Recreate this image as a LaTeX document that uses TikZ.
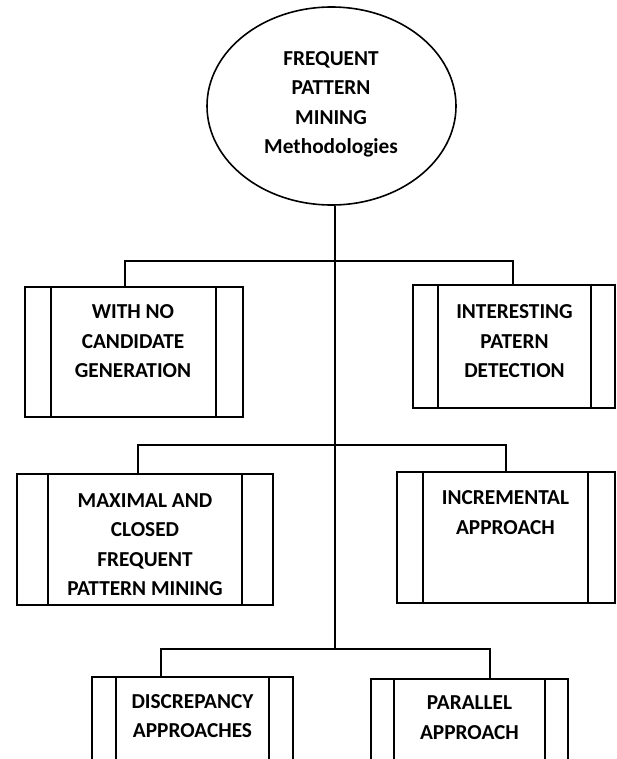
\documentclass[tikz,border=0pt]{standalone}
\usepackage{fontspec}
\setmainfont{Carlito}
\usetikzlibrary{shapes.geometric}

\tikzset{
  labeltext/.style={font=\fontsize{21.3}{29.5}\selectfont\bfseries, align=center, inner sep=0pt},
  framebox/.style={draw, inner sep=0pt},
}

\begin{document}
\begin{tikzpicture}[x=1pt, y=-1pt, line width=1.6pt]
  \useasboundingbox (0,0) rectangle (616,759);
  \clip (0,0) rectangle (616,759);

  % root ellipse
  \node[draw, ellipse, minimum width=249pt, minimum height=198pt, inner sep=0pt] (root) at (331.5,106) {};
  \node[labeltext] (roottext) at (331,104.5) {FREQUENT\\PATTERN\\MINING\\Methodologies};

  % boxes with side bars: outer frame + two inner verticals
  \node[framebox, minimum width=218pt, minimum height=130pt] (b1) at (134,352) {};
  \draw (51,287) -- (51,417) (216,287) -- (216,417);
  \node[labeltext] (t1) at (133,341.5) {WITH NO\\CANDIDATE\\GENERATION};

  \node[framebox, minimum width=202pt, minimum height=123pt] (b2) at (514,346.5) {};
  \draw (438,285) -- (438,408) (591,285) -- (591,408);
  \node[labeltext] (t2) at (514.5,341.5) {INTERESTING\\PATERN\\DETECTION};

  \node[framebox, minimum width=256pt, minimum height=131pt] (b3) at (145,539.5) {};
  \draw (48,474) -- (48,605) (242,474) -- (242,605);
  \node[labeltext] (t3) at (145,544.5) {MAXIMAL AND\\CLOSED\\FREQUENT\\PATTERN MINING};

  \node[framebox, minimum width=218pt, minimum height=131pt] (b4) at (506,537.5) {};
  \draw (423,472) -- (423,603) (588,472) -- (588,603);
  \node[labeltext] (t4) at (505.5,512.5) {INCREMENTAL\\APPROACH};

  \node[framebox, minimum width=201pt, minimum height=160pt] (b5) at (192.5,757) {};
  \draw (116,677) -- (116,840) (269,677) -- (269,840);
  \node[labeltext] (t5) at (192.5,716) {DISCREPANCY\\APPROACHES};

  \node[framebox, minimum width=197pt, minimum height=160pt] (b6) at (469.5,759) {};
  \draw (394,679) -- (394,840) (545,679) -- (545,840);
  \node[labeltext] (t6) at (469.5,717.5) {PARALLEL\\APPROACH};

  % spine and branch points
  \coordinate (j3) at (335,649);
  \coordinate (d1) at (125,261);
  \coordinate (d2) at (513,261);
  \coordinate (d3) at (138,445);
  \coordinate (d4) at (506,445);
  \coordinate (d5) at (161,649);
  \coordinate (d6) at (490,649);

  \draw (root.south -| j3) -- (j3);
  \draw (b1.north -| d1) -- (d1) -- (d2) -- (b2.north -| d2);
  \draw (b3.north -| d3) -- (d3) -- (d4) -- (b4.north -| d4);
  \draw (b5.north -| d5) -- (d5) -- (d6) -- (b6.north -| d6);
\end{tikzpicture}
\end{document}
